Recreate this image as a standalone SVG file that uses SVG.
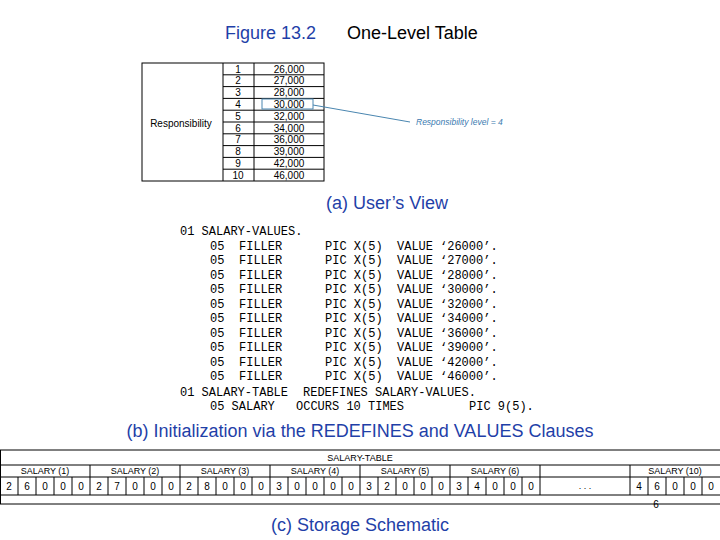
<svg xmlns="http://www.w3.org/2000/svg" width="720" height="540" viewBox="0 0 720 540">
<style>
.t{font-family:"Liberation Sans",Arial,sans-serif;fill:#000}
.s{font-size:10px;text-anchor:middle}
.c{font-family:"Liberation Mono","Courier New",monospace;font-size:12px;fill:#000}
.cap{font-family:"Liberation Sans",Arial,sans-serif;font-size:18px;fill:#1f3fa8;text-anchor:middle}
.ln{stroke:#000;stroke-width:1;fill:none}
</style>
<rect width="720" height="540" fill="#fff"/>
<text x="225" y="39" class="t" style="font-size:18px;fill:#1f3fa8">Figure 13.2</text>
<text x="347" y="39" class="t" style="font-size:18px">One-Level Table</text>
<g id="user-table">
<rect x="142" y="63" width="182" height="118" class="ln"/>
<line x1="223" y1="63" x2="223" y2="181" class="ln"/>
<line x1="254" y1="63" x2="254" y2="181" class="ln"/>
<g class="ln">
<line x1="223" y1="74.8" x2="324" y2="74.8"/><line x1="223" y1="86.6" x2="324" y2="86.6"/><line x1="223" y1="98.4" x2="324" y2="98.4"/><line x1="223" y1="110.2" x2="324" y2="110.2"/><line x1="223" y1="122" x2="324" y2="122"/><line x1="223" y1="133.8" x2="324" y2="133.8"/><line x1="223" y1="145.6" x2="324" y2="145.6"/><line x1="223" y1="157.4" x2="324" y2="157.4"/><line x1="223" y1="169.2" x2="324" y2="169.2"/>
</g>
<text x="181" y="127" class="t s">Responsibility</text>
<g class="t s">
<text x="238" y="72.5">1</text><text x="238" y="84.3">2</text><text x="238" y="96.1">3</text><text x="238" y="107.9">4</text><text x="238" y="119.7">5</text><text x="238" y="131.5">6</text><text x="238" y="143.3">7</text><text x="238" y="155.1">8</text><text x="238" y="166.9">9</text><text x="238" y="178.7">10</text>
<text x="289" y="72.5">26,000</text><text x="289" y="84.3">27,000</text><text x="289" y="96.1">28,000</text><text x="289" y="107.9">30,000</text><text x="289" y="119.7">32,000</text><text x="289" y="131.5">34,000</text><text x="289" y="143.3">36,000</text><text x="289" y="155.1">39,000</text><text x="289" y="166.9">42,000</text><text x="289" y="178.7">46,000</text>
</g>
</g>
<g id="callout">
<rect x="262" y="99" width="51" height="10" fill="none" stroke="#4a86b0" stroke-width="1"/>
<line x1="313" y1="105" x2="410" y2="122" stroke="#4a86b0" stroke-width="1"/>
<text x="416" y="125" class="t" style="font-size:8.5px;font-style:italic;fill:#3a7ab0">Responsibility level = 4</text>
</g>
<text x="387" y="209" class="cap">(a) User’s View</text>
<g id="code" class="c">
<text x="180" y="235">01 SALARY-VALUES.</text>
<g>
<text x="210" y="249.5">05</text><text x="239" y="249.5">FILLER</text><text x="325" y="249.5">PIC X(5)</text><text x="397" y="249.5">VALUE</text><text x="440" y="249.5">‘26000’.</text>
<text x="210" y="264">05</text><text x="239" y="264">FILLER</text><text x="325" y="264">PIC X(5)</text><text x="397" y="264">VALUE</text><text x="440" y="264">‘27000’.</text>
<text x="210" y="278.5">05</text><text x="239" y="278.5">FILLER</text><text x="325" y="278.5">PIC X(5)</text><text x="397" y="278.5">VALUE</text><text x="440" y="278.5">‘28000’.</text>
<text x="210" y="293">05</text><text x="239" y="293">FILLER</text><text x="325" y="293">PIC X(5)</text><text x="397" y="293">VALUE</text><text x="440" y="293">‘30000’.</text>
<text x="210" y="307.5">05</text><text x="239" y="307.5">FILLER</text><text x="325" y="307.5">PIC X(5)</text><text x="397" y="307.5">VALUE</text><text x="440" y="307.5">‘32000’.</text>
<text x="210" y="322">05</text><text x="239" y="322">FILLER</text><text x="325" y="322">PIC X(5)</text><text x="397" y="322">VALUE</text><text x="440" y="322">‘34000’.</text>
<text x="210" y="336.5">05</text><text x="239" y="336.5">FILLER</text><text x="325" y="336.5">PIC X(5)</text><text x="397" y="336.5">VALUE</text><text x="440" y="336.5">‘36000’.</text>
<text x="210" y="351">05</text><text x="239" y="351">FILLER</text><text x="325" y="351">PIC X(5)</text><text x="397" y="351">VALUE</text><text x="440" y="351">‘39000’.</text>
<text x="210" y="365.5">05</text><text x="239" y="365.5">FILLER</text><text x="325" y="365.5">PIC X(5)</text><text x="397" y="365.5">VALUE</text><text x="440" y="365.5">‘42000’.</text>
<text x="210" y="380">05</text><text x="239" y="380">FILLER</text><text x="325" y="380">PIC X(5)</text><text x="397" y="380">VALUE</text><text x="440" y="380">‘46000’.</text>
</g>
<text x="180" y="396">01 SALARY-TABLE</text><text x="303" y="396">REDEFINES SALARY-VALUES.</text>
<text x="210" y="410">05 SALARY</text><text x="296" y="410">OCCURS 10 TIMES</text><text x="469" y="410">PIC 9(5).</text>
</g>
<text x="360" y="437" class="cap">(b) Initialization via the REDEFINES and VALUES Clauses</text>
<g id="storage">
<g class="ln">
<line x1="0" y1="450" x2="720" y2="450"/><line x1="0" y1="465" x2="720" y2="465"/><line x1="0" y1="477" x2="720" y2="477"/><line x1="0" y1="495" x2="720" y2="495"/><line x1="0" y1="504" x2="720" y2="504"/>
<line x1="0.5" y1="450" x2="0.5" y2="504"/>
<line x1="90" y1="465" x2="90" y2="495"/><line x1="180" y1="465" x2="180" y2="495"/><line x1="270" y1="465" x2="270" y2="495"/><line x1="360" y1="465" x2="360" y2="495"/><line x1="450" y1="465" x2="450" y2="495"/><line x1="540" y1="465" x2="540" y2="495"/><line x1="630" y1="465" x2="630" y2="495"/>
<path d="M18 477V495M36 477V495M54 477V495M72 477V495M108 477V495M126 477V495M144 477V495M162 477V495M198 477V495M216 477V495M234 477V495M252 477V495M288 477V495M306 477V495M324 477V495M342 477V495M378 477V495M396 477V495M414 477V495M432 477V495M468 477V495M486 477V495M504 477V495M522 477V495M648 477V495M666 477V495M684 477V495M702 477V495"/>
</g>
<g class="t" style="font-size:9px;text-anchor:middle">
<text x="360" y="461">SALARY-TABLE</text>
<text x="45" y="474">SALARY (1)</text><text x="135" y="474">SALARY (2)</text><text x="225" y="474">SALARY (3)</text><text x="315" y="474">SALARY (4)</text><text x="405" y="474">SALARY (5)</text><text x="495" y="474">SALARY (6)</text><text x="675" y="474">SALARY (10)</text>
<text x="585" y="489">. . .</text>
</g>
<g class="t" style="font-size:10px;text-anchor:middle">
<text x="9" y="490">2</text><text x="27" y="490">6</text><text x="45" y="490">0</text><text x="63" y="490">0</text><text x="81" y="490">0</text>
<text x="99" y="490">2</text><text x="117" y="490">7</text><text x="135" y="490">0</text><text x="153" y="490">0</text><text x="171" y="490">0</text>
<text x="189" y="490">2</text><text x="207" y="490">8</text><text x="225" y="490">0</text><text x="243" y="490">0</text><text x="261" y="490">0</text>
<text x="279" y="490">3</text><text x="297" y="490">0</text><text x="315" y="490">0</text><text x="333" y="490">0</text><text x="351" y="490">0</text>
<text x="369" y="490">3</text><text x="387" y="490">2</text><text x="405" y="490">0</text><text x="423" y="490">0</text><text x="441" y="490">0</text>
<text x="459" y="490">3</text><text x="477" y="490">4</text><text x="495" y="490">0</text><text x="513" y="490">0</text><text x="531" y="490">0</text>
<text x="639" y="490">4</text><text x="657" y="490">6</text><text x="675" y="490">0</text><text x="693" y="490">0</text><text x="711" y="490">0</text>
<text x="656" y="508">6</text>
</g>
</g>
<text x="360" y="531" class="cap">(c) Storage Schematic</text>
</svg>
